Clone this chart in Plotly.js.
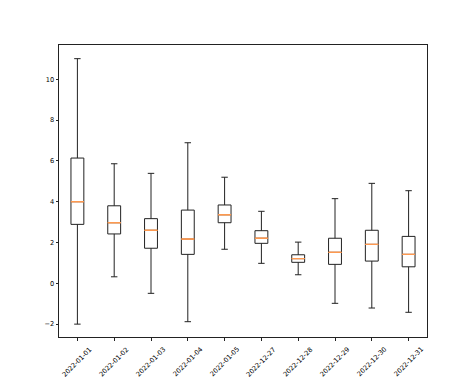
<!DOCTYPE html>
<html>
<head>
<meta charset="utf-8">
<script src="https://cdn.plot.ly/plotly-3.0.1.min.js"></script>
<style>html,body{margin:0;padding:0;background:#fff;}#chart{width:474px;height:379px;}</style>
</head>
<body>
<div id="chart"></div>
<script>
var dates = ["2022-01-01","2022-01-02","2022-01-03","2022-01-04","2022-01-05","2022-12-27","2022-12-28","2022-12-29","2022-12-30","2022-12-31"];
var lowerWhisker = [-2.00, 0.32, -0.49, -1.88, 1.67, 0.98, 0.42, -0.98, -1.21, -1.42];
var q1Values     = [2.89, 2.42, 1.72, 1.42, 2.97, 1.96, 1.03, 0.93, 1.09, 0.81];
var medianValues = [4.00, 2.97, 2.60, 2.17, 3.36, 2.21, 1.21, 1.52, 1.91, 1.42];
var q3Values     = [6.14, 3.80, 3.17, 3.59, 3.84, 2.58, 1.40, 2.21, 2.60, 2.30];
var upperWhisker = [11.01, 5.86, 5.39, 6.89, 5.20, 3.53, 2.02, 4.15, 4.90, 4.54];
var yTickVals = [-2, 0, 2, 4, 6, 8, 10];
var yTickText = ["\u22122", "0", "2", "4", "6", "8", "10"];

var lineCol = "#222222";
var boxes = {
  type: "box",
  x: dates,
  q1: q1Values,
  median: medianValues,
  q3: q3Values,
  lowerfence: lowerWhisker,
  upperfence: upperWhisker,
  boxpoints: false,
  fillcolor: "rgba(0,0,0,0)",
  line: {color: lineCol, width: 1},
  whiskerwidth: 0.5,
  hoverinfo: "skip",
  showlegend: false
};
var medians = {
  type: "box",
  x: dates,
  q1: medianValues,
  median: medianValues,
  q3: medianValues,
  lowerfence: medianValues,
  upperfence: medianValues,
  boxpoints: false,
  fillcolor: "rgba(0,0,0,0)",
  line: {color: "#ff9a50", width: 1},
  whiskerwidth: 0,
  hoverinfo: "skip",
  showlegend: false
};

var labelAnnotations = dates.map(function (d) {
  return {
    xref: "x", yref: "paper", x: d, y: -0.021,
    xanchor: "center", yanchor: "top",
    text: d, textangle: -45, showarrow: false,
    font: {family: "DejaVu Sans", size: 6.6, color: "#000000"}
  };
});

var layout = {
  width: 474, height: 379,
  margin: {l: 59, r: 47, t: 45, b: 42},
  paper_bgcolor: "#ffffff", plot_bgcolor: "#ffffff",
  boxmode: "overlay",
  boxgap: 0.5,
  font: {family: "DejaVu Sans", size: 6.6, color: "#000000"},
  xaxis: {
    type: "category",
    range: [-0.5, 9.5],
    showline: true, mirror: true, linecolor: lineCol, linewidth: 1,
    showgrid: false, zeroline: false, showticklabels: false,
    ticks: "outside", ticklen: 2.5, tickwidth: 1, tickcolor: lineCol
  },
  yaxis: {
    range: [-2.63, 11.68],
    tickvals: yTickVals,
    ticktext: yTickText,
    showline: true, mirror: true, linecolor: lineCol, linewidth: 1,
    showgrid: false, zeroline: false,
    ticks: "outside", ticklen: 2.5, tickwidth: 1, tickcolor: lineCol
  },
  annotations: labelAnnotations
};
Plotly.newPlot("chart", [boxes, medians], layout, {displayModeBar: false, staticPlot: true});
</script>
</body>
</html>
